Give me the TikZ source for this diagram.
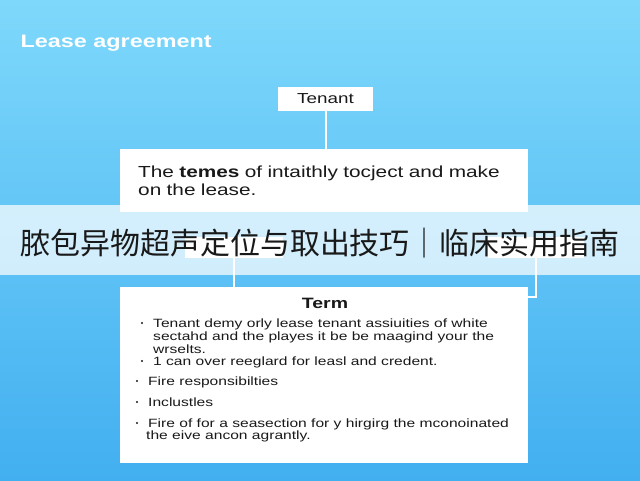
\documentclass[tikz,border=0pt]{standalone}
\usepackage{fontspec}
\setmainfont{Liberation Sans}[FakeStretch=1.3]
\newfontfamily\cjk{Noto Sans CJK SC}
\usetikzlibrary{positioning}
\definecolor{skytop}{RGB}{126,216,251}
\definecolor{skybot}{RGB}{66,175,240}
\definecolor{inkgray}{RGB}{25,25,25}
\tikzset{
  card/.style={fill=white, draw=none, inner sep=0pt},
  wire/.style={draw=white, line width=2pt},
  itemtext/.style={anchor=north west, align=left, inner sep=0pt, text=inkgray,
    font=\fontsize{12}{13}\selectfont},
}
\begin{document}
\begin{tikzpicture}[x=1pt,y=-1pt]
\useasboundingbox (0,0) rectangle (640,480);
\shade[top color=skytop, bottom color=skybot] (0,0) rectangle (640,480);
\node[anchor=west, text=white, font=\bfseries\fontsize{18}{20}\selectfont] (title) at (17,43) {Lease agreement};

\node[card, minimum width=95pt, minimum height=24pt, text=inkgray,
  font=\fontsize{14.5}{16}\selectfont] (tenant) at (325.5,99) {Tenant};
\node[card, anchor=north west, minimum width=408pt, minimum height=63pt, text width=372pt,
  align=left, text=inkgray, font=\fontsize{16}{18.5}\selectfont] (terms) at (120,149)
  {The \textbf{temes} of intaithly tocject and make\\on the lease.};
\draw[wire] (tenant.south) -- (tenant.south |- terms.north);

\node[card, minimum width=98pt, minimum height=21pt] (leftbox) at (234,247.5) {};
\node[card, minimum width=96pt, minimum height=21pt] (rightbox) at (536,247.5) {};
\node[card, anchor=north west, minimum width=408pt, minimum height=176pt] (term) at (120,287) {};
\draw[wire] (leftbox.south) -- (leftbox.south |- term.north);
\draw[wire] (rightbox.south) |- ([yshift=-10pt]term.north east);

\fill[white, opacity=0.72] (0,205) rectangle (640,275);
\node[text=inkgray, font=\cjk\fontsize{30}{32}\selectfont] (caption) at (320,243)
  {脓包异物超声定位与取出技巧｜临床实用指南};

\node[text=inkgray, font=\bfseries\fontsize{15}{17}\selectfont] (termhead) at (325,303) {Term};
\foreach \xpos/\ypos/\txt [count=\cnt] in {
    153/318.5/{Tenant demy orly lease tenant assiuities of white\\sectahd and the playes it be be maagind your the\\wrselts.},
    153/356.5/{1 can over reeglard for leasl and credent.},
    148/376.5/{Fire responsibilties},
    148/397.5/{Inclustles},
    148/418.5/{Fire of for a seasection for y hirgirg the mconoinated\\[-0.5pt]\hspace*{-2pt}the eive ancon agrantly.}}
  {
    \node[itemtext] (item\cnt) at (\xpos,\ypos) {\txt};
    \fill[inkgray] ([xshift=-11pt,yshift=-4.5pt]item\cnt.north west) circle (1.1pt);
  }
\end{tikzpicture}
\end{document}
